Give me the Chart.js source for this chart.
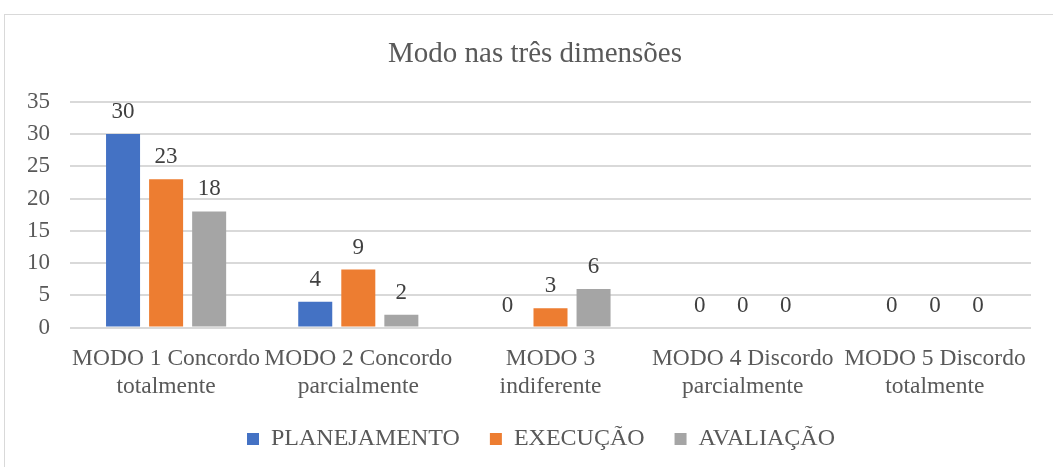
<!DOCTYPE html>
<html lang="pt">
<head>
<meta charset="utf-8">
<title>Modo nas três dimensões</title>
<script src="https://cdn.jsdelivr.net/npm/chart.js@4.4.1/dist/chart.umd.min.js"></script>
<style>
  html, body { margin: 0; padding: 0; background: #fff; overflow: hidden; }
  .chart-box {
    position: absolute;
    left: 4px;
    top: 14px;
    width: 1200px;
    height: 600px;
    border: 1px solid #d9d9d9;
  }
  #mode-chart { display: block; }
</style>
</head>
<body>
<div class="chart-box">
  <canvas id="mode-chart" width="1078" height="459"></canvas>
</div>
<script>
const categories = [
  ['MODO 1 Concordo', 'totalmente'],
  ['MODO 2 Concordo', 'parcialmente'],
  ['MODO 3', 'indiferente'],
  ['MODO 4 Discordo', 'parcialmente'],
  ['MODO 5 Discordo', 'totalmente']
];
const planejamento = [30, 4, 0, 0, 0];
const execucao = [23, 9, 3, 0, 0];
const avaliacao = [18, 2, 6, 0, 0];
const yTicks = [0, 5, 10, 15, 20, 25, 30, 35];

const serif = "'Liberation Serif', 'Times New Roman', serif";
const textColor = '#595959';

// writes each bar's value just above its top edge
const barValueLabels = {
  id: 'barValueLabels',
  afterDatasetsDraw(chart) {
    const ctx = chart.ctx;
    ctx.save();
    ctx.font = '23px ' + serif;
    ctx.fillStyle = '#404040';
    ctx.textAlign = 'center';
    ctx.textBaseline = 'alphabetic';
    chart.data.datasets.forEach((ds, i) => {
      const meta = chart.getDatasetMeta(i);
      meta.data.forEach((bar, j) => {
        ctx.fillText(String(ds.data[j]), bar.x, bar.y - 16);
      });
    });
    ctx.restore();
  }
};

// centre title and legend on the whole box, and pull the legend up closer to the axis labels
const nudgeBlocks = {
  id: 'nudgeBlocks',
  afterLayout(chart) {
    const title = chart.titleBlock;
    const legend = chart.legend;
    title.left += 16;
    title.right += 16;
    legend.left += 22;
    legend.right += 22;
    legend.top -= 13;
    legend.bottom -= 13;
  }
};

const ctx = document.getElementById('mode-chart').getContext('2d');
new Chart(ctx, {
  type: 'bar',
  data: {
    labels: categories,
    datasets: [
      { label: 'PLANEJAMENTO', data: planejamento, backgroundColor: '#4472c4' },
      { label: 'EXECUÇÃO', data: execucao, backgroundColor: '#ed7d31' },
      { label: 'AVALIAÇÃO', data: avaliacao, backgroundColor: '#a5a5a5' }
    ]
  },
  options: {
    responsive: false,
    animation: false,
    layout: {
      padding: { left: 2, right: 52, top: 0, bottom: 0 }
    },
    datasets: {
      bar: {
        categoryPercentage: 0.672,
        barPercentage: 0.79
      }
    },
    plugins: {
      title: {
        display: true,
        text: 'Modo nas três dimensões',
        color: textColor,
        font: { family: serif, size: 29, weight: 'normal' },
        padding: { top: 22, bottom: 30 }
      },
      legend: {
        position: 'bottom',
        labels: {
          color: textColor,
          font: { family: serif, size: 24 },
          boxWidth: 12,
          boxHeight: 12,
          padding: 30
        }
      },
      tooltip: { enabled: false }
    },
    scales: {
      x: {
        grid: { display: false },
        border: { display: false },
        ticks: {
          color: textColor,
          font: { family: serif, size: 23.5, lineHeight: 1.2 },
          maxRotation: 0,
          autoSkip: false,
          padding: 9
        }
      },
      y: {
        min: 0,
        max: 35,
        afterBuildTicks(axis) {
          axis.ticks = yTicks.map(v => ({ value: v }));
        },
        grid: { color: '#d9d9d9', lineWidth: 2, drawTicks: false },
        border: { display: false },
        ticks: {
          color: textColor,
          font: { family: serif, size: 23 },
          padding: 20
        }
      }
    }
  },
  plugins: [barValueLabels, nudgeBlocks]
});
</script>
</body>
</html>
